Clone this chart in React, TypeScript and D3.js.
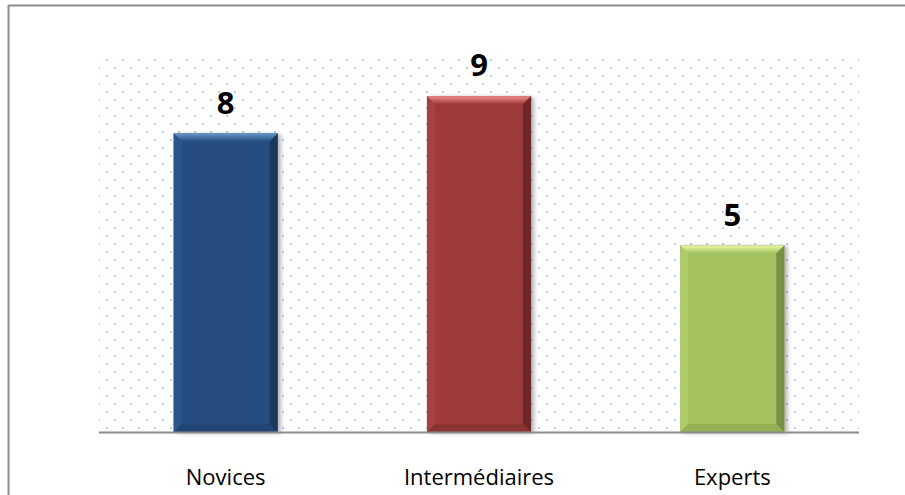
import React from "react";
import * as d3 from "d3";

const categories = ["Novices", "Intermédiaires", "Experts"];
const values = [8, 9, 5];
const yDomainMax = 10;

const palette = [
  { base: "#254e7f", top: "#6592c8", left: "#315d93", right: "#182f4d", bottom: "#1f4470" },
  { base: "#9d3a3a", top: "#ee8a8a", left: "#ae4848", right: "#5e2020", bottom: "#873131" },
  { base: "#a4c360", top: "#eaf9a4", left: "#b4d070", right: "#66793a", bottom: "#8fab50" },
];

const W = 905;
const H = 495;
const plot = { left: 99, right: 859, top: 59, bottom: 432 };

export default function App() {
  const x = d3.scaleBand<string>().domain(categories).range([plot.left, plot.right]).paddingInner(0.59).paddingOuter(0.295);
  const y = d3.scaleLinear().domain([0, yDomainMax]).range([plot.bottom, plot.top]);
  const bw = x.bandwidth();
  const bev = 8;

  return (
    <svg width={W} height={H} style={{ position: "absolute", left: 0, top: 0, background: "#fff" }}>
      <defs>
        <pattern id="dots" x={99} y={60} width={16} height={16} patternUnits="userSpaceOnUse">
          <rect x={7} y={-1} width={2} height={2} fill="#b9cdec" />
          <rect x={-1} y={7} width={2} height={2} fill="#b9cdec" />
          <rect x={15} y={7} width={2} height={2} fill="#b9cdec" />
          <rect x={7} y={15} width={2} height={2} fill="#b9cdec" />
        </pattern>
        <filter id="shadow" x="-20%" y="-10%" width="140%" height="120%">
          <feGaussianBlur in="SourceAlpha" stdDeviation="2" />
          <feOffset dx="3" dy="1" result="b" />
          <feComponentTransfer>
            <feFuncA type="linear" slope="0.3" />
          </feComponentTransfer>
          <feMerge>
            <feMergeNode />
            <feMergeNode in="SourceGraphic" />
          </feMerge>
        </filter>
        {palette.map((p, i) => (
          <linearGradient key={i} id={`topg${i}`} x1="0" y1="0" x2="0" y2="1">
            <stop offset="0" stopColor={p.top} />
            <stop offset="1" stopColor={p.base} />
          </linearGradient>
        ))}
      </defs>

      {/* outer border */}
      <line x1={8.5} y1={5.5} x2={W} y2={5.5} stroke="#8c8c8c" strokeWidth={2} />
      <line x1={8.5} y1={5} x2={8.5} y2={H} stroke="#8c8c8c" strokeWidth={2} />

      {/* dotted plot area */}
      <rect x={plot.left} y={plot.top} width={plot.right - plot.left} height={plot.bottom - plot.top} fill="url(#dots)" />

      {/* bars */}
      {categories.map((c, i) => {
        const x0 = x(c)!;
        const x1 = x0 + bw;
        const y0 = y(values[i]);
        const y1 = plot.bottom;
        const p = palette[i];
        return (
          <g key={c} filter="url(#shadow)">
            <rect x={x0} y={y0} width={bw} height={y1 - y0} fill={p.base} stroke={p.right} strokeOpacity={0.4} strokeWidth={0.6} />
            <path d={`M${x0},${y0}L${x1},${y0}L${x1 - bev},${y0 + bev}L${x0 + bev},${y0 + bev}Z`} fill={`url(#topg${i})`} />
            <path d={`M${x0},${y0}L${x0 + bev},${y0 + bev}L${x0 + bev},${y1 - bev}L${x0},${y1}Z`} fill={p.left} opacity={0.6} />
            <path d={`M${x1},${y0}L${x1 - bev},${y0 + bev}L${x1 - bev},${y1 - bev}L${x1},${y1}Z`} fill={p.right} opacity={0.7} />
            <path d={`M${x0},${y1}L${x0 + bev},${y1 - bev}L${x1 - bev},${y1 - bev}L${x1},${y1}Z`} fill={p.bottom} opacity={0.8} />
          </g>
        );
      })}

      {/* value labels */}
      {categories.map((c, i) => (
        <text
          key={`v${c}`}
          x={x(c)! + bw / 2}
          y={y(values[i]) - 20}
          textAnchor="middle"
          fontFamily="'Open Sans', sans-serif"
          fontWeight="bold"
          fontSize={31}
          fill="#000"
        >
          {values[i]}
        </text>
      ))}

      {/* baseline */}
      <line x1={plot.left} y1={plot.bottom + 0.5} x2={plot.right} y2={plot.bottom + 0.5} stroke="#8c8c8c" strokeWidth={2} />

      {/* category labels */}
      {categories.map((c) => (
        <text
          key={`c${c}`}
          x={x(c)! + bw / 2}
          y={485}
          textAnchor="middle"
          fontFamily="'Open Sans', sans-serif"
          fontSize={22}
          fill="#000"
        >
          {c}
        </text>
      ))}
    </svg>
  );
}
